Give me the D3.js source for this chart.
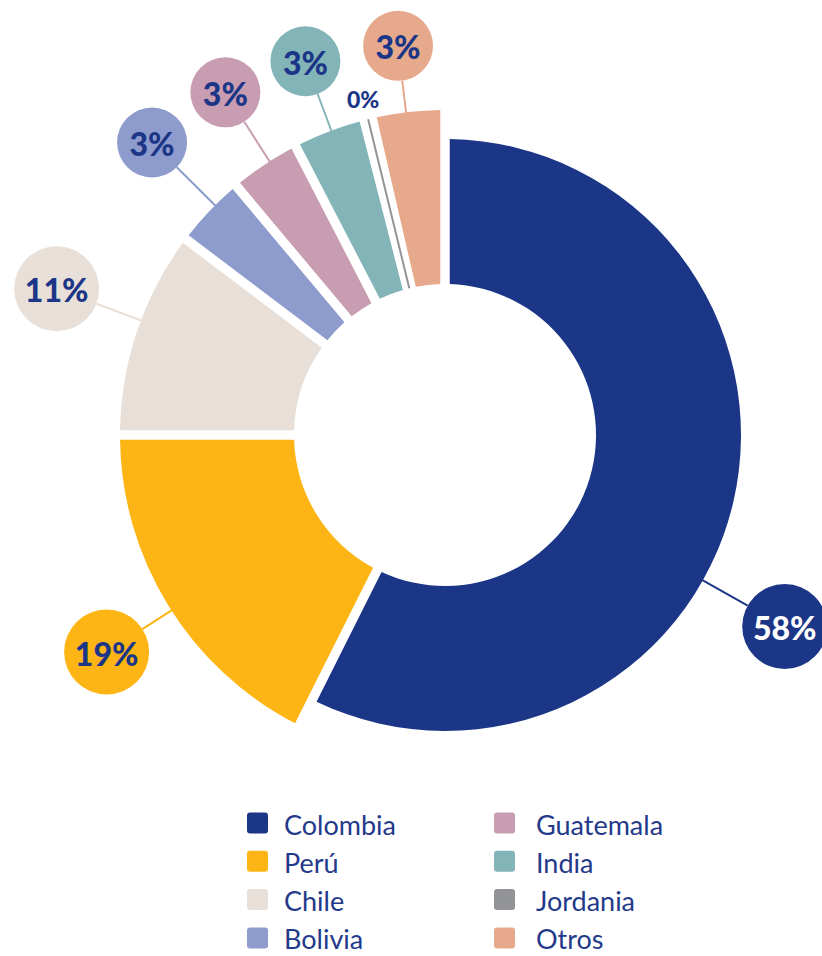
<!DOCTYPE html>
<html>
<head>
<meta charset="utf-8">
<script src="https://cdn.jsdelivr.net/npm/d3@7"></script>
<style>
  body { margin: 0; background: #fff; }
</style>
</head>
<body>
<script>
// Donut: share by country

const countries = ["Colombia", "Perú", "Chile", "Bolivia", "Guatemala", "India", "Jordania", "Otros"];
const shares    = [57.4, 17.6, 10.3, 3.6, 3.5, 3.6, 0.4, 3.6];
const labels    = ["58%", "19%", "11%", "3%", "3%", "3%", "0%", "3%"];  // printed values
const colors    = ["#1c3687", "#fdb515", "#e8e0d8", "#8e9bcd", "#c99db1", "#83b5b8", "#939497", "#e7a98c"];

// callout layout (distance from centre, angle nudge in degrees)
const calloutDist  = [390, 402, 415, 414, 407, 399, 346, 392];
const calloutNudge = [16.1, -1, 2.1, 1.4, 1, 0.4, 0, -0.4];

const width = 822, height = 956;
const cx = 445, cy = 435;
const innerR = 151;
const textBlue = "#1c3687";

const data = countries.map((c, i) => ({country: c, share: shares[i], label: labels[i], color: colors[i], i: i}));

const svg = d3.select("body").append("svg")
    .attr("width", width)
    .attr("height", height);

const g = svg.append("g").attr("transform", "translate(" + cx + "," + cy + ")");

const pie = d3.pie().sort(null).value(d => d.share);
const arcs = pie(data);

const padAngle = 0.095;
const outerR = d => d.data.country === "Colombia" ? 296 : 325;

const arc = d3.arc()
    .innerRadius(innerR)
    .outerRadius(outerR)
    .padAngle(padAngle)
    .padRadius(100);

g.selectAll(".slice")
    .data(arcs)
    .enter()
    .append("path")
    .attr("class", "slice")
    .attr("d", arc)
    .attr("fill", d => d.data.color)
    .attr("stroke", d => d.data.color)
    // tiny slices collapse to a line under the padding, draw them as a stroke
    .attr("stroke-width", d => (d.endAngle - d.startAngle) < padAngle ? 2 : 0);

function polar(r, a) {
  return [r * Math.sin(a), -r * Math.cos(a)];
}

// callouts
const callouts = g.selectAll(".callout")
    .data(arcs)
    .enter()
    .append("g")
    .attr("class", "callout");

callouts.each(function(d) {
  const sel = d3.select(this);
  const i = d.data.i;
  const a = (d.startAngle + d.endAngle) / 2 + calloutNudge[i] * Math.PI / 180;
  const dist = calloutDist[i];
  const big = d.data.share >= 10;
  const rad = big ? 42.5 : 35;
  const p = polar(dist, a);

  if (d.data.share < 1) {
    sel.append("text")
        .attr("x", p[0])
        .attr("y", p[1])
        .attr("text-anchor", "middle")
        .attr("dominant-baseline", "central")
        .style("font-family", "Lato, 'Open Sans', sans-serif")
        .style("font-weight", 900)
        .style("font-size", "23px")
        .style("fill", textBlue)
        .text(d.data.label);
    return;
  }

  const p0 = polar(outerR(d) - 1, a);
  const p1 = polar(dist - rad, a);
  sel.append("line")
      .attr("x1", p0[0]).attr("y1", p0[1])
      .attr("x2", p1[0]).attr("y2", p1[1])
      .attr("stroke", d.data.color)
      .attr("stroke-width", 2);

  sel.append("circle")
      .attr("cx", p[0])
      .attr("cy", p[1])
      .attr("r", rad)
      .attr("fill", d.data.color);

  sel.append("text")
      .attr("x", p[0])
      .attr("y", p[1] + 1)
      .attr("text-anchor", "middle")
      .attr("dominant-baseline", "central")
      .style("font-family", "Lato, 'Open Sans', sans-serif")
      .style("font-weight", 900)
      .style("font-size", "32px")
      .style("fill", d.data.country === "Colombia" ? "#ffffff" : textBlue)
      .text(d.data.label);
});

// legend
const legend = svg.append("g").attr("class", "legend");
const colX = [247, 494];
const rowY0 = 823, rowStep = 38.3;

const items = legend.selectAll(".item")
    .data(data)
    .enter()
    .append("g")
    .attr("class", "item")
    .attr("transform", (d, i) => "translate(" + colX[Math.floor(i / 4)] + "," + (rowY0 + (i % 4) * rowStep) + ")");

items.append("rect")
    .attr("x", 0)
    .attr("y", -10.5)
    .attr("width", 21)
    .attr("height", 21)
    .attr("rx", 3)
    .attr("fill", d => d.color);

items.append("text")
    .attr("x", (d, i) => i < 4 ? 37 : 42)
    .attr("y", 1)
    .attr("dominant-baseline", "central")
    .style("font-family", "Lato, 'Open Sans', sans-serif")
    .style("font-size", "27px")
    .style("fill", "#23398a")
    .text(d => d.country);
</script>
</body>
</html>
